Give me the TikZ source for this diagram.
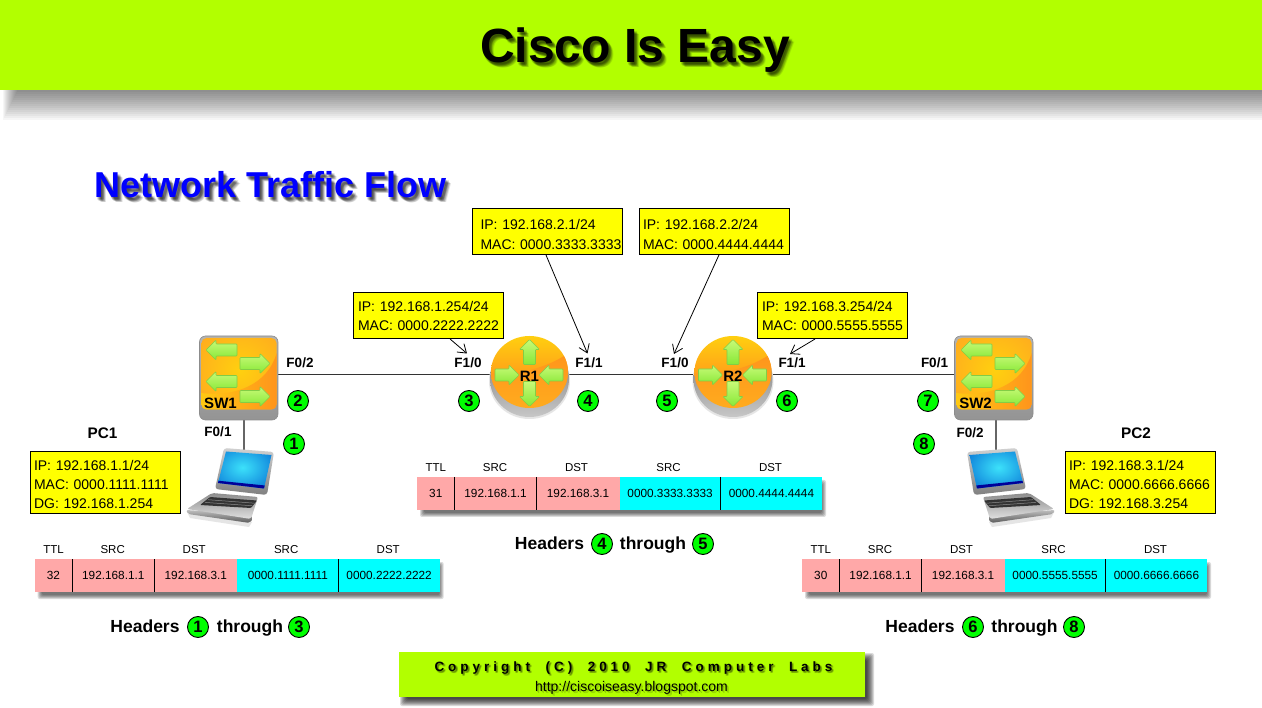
\documentclass[tikz,border=0pt]{standalone}
\usepackage{fontspec}
\setmainfont{Liberation Sans}
\newfontfamily\spacedfont[LetterSpace=29.5]{Liberation Sans}
\usetikzlibrary{arrows.meta,calc,shapes.geometric,fadings}
\definecolor{lime}{RGB}{178,255,0}
\definecolor{stepgreen}{RGB}{0,255,0}
\definecolor{boxyellow}{RGB}{255,255,0}
\definecolor{ippink}{RGB}{255,168,168}
\definecolor{maccyan}{RGB}{0,255,255}
\definecolor{screencyan}{RGB}{60,225,250}
\definecolor{screenblue}{RGB}{10,120,215}
\definecolor{arrowlight}{RGB}{200,250,120}
\definecolor{arrowdeep}{RGB}{135,232,55}
\definecolor{arrowedge}{RGB}{130,205,70}
\definecolor{faceyellow}{RGB}{255,208,15}
\definecolor{faceorange}{RGB}{255,172,30}
\definecolor{deeporange}{RGB}{255,148,28}
\newcommand{\fsz}[2]{\fontsize{#1}{#2}\selectfont}
\newcommand{\titlefont}{\bfseries\fsz{48}{50}}
\newcommand{\subtitlefont}{\bfseries\fsz{36}{38}}
\newcommand{\copyfont}{\spacedfont\bfseries\fsz{13.5}{15}}
\newcommand{\urlfont}{\fsz{14}{16}}
\newcommand{\copytext}{Copyright\ \ (C)\ \ 2010\ \ JR\ \ Computer\ \ Labs}
\newcommand{\ind}[1]{\hspace*{#1pt}}
\begin{tikzfadingfrompicture}[name=titlefade]
  \node[inner sep=0pt,text=transparent!0,font=\titlefont] {Cisco Is Easy};
\end{tikzfadingfrompicture}
\begin{tikzfadingfrompicture}[name=subtitlefade]
  \node[inner sep=0pt,text=transparent!0,font=\subtitlefont] {Network Traffic Flow};
\end{tikzfadingfrompicture}
\begin{tikzfadingfrompicture}[name=copyfade]
  \node[inner sep=0pt,text=transparent!0,font=\copyfont] {\copytext};
\end{tikzfadingfrompicture}
\begin{tikzfadingfrompicture}[name=urlfade]
  \node[inner sep=0pt,text=transparent!0,font=\urlfont] {http://ciscoiseasy.blogspot.com};
\end{tikzfadingfrompicture}
\tikzset{
  x=1pt,y=-1pt,
  addrbox/.style={draw=black,line width=1pt,fill=boxyellow,align=left,text width=148pt,inner xsep=1pt,inner ysep=0pt,outer sep=0pt,font=\fsz{14}{19.4}},
  iflabel/.style={font=\bfseries\fsz{13.5}{15},inner sep=0pt,text=black},
  devlabel/.style={font=\bfseries\fsz{15.3}{17},inner sep=0pt,text=black},
  stepdot/.style={circle,draw=black,line width=.9pt,fill=stepgreen,minimum size=21pt,inner sep=0pt,font=\bfseries\fsz{16.5}{16}},
  headtext/.style={font=\bfseries\fsz{17.5}{19},inner sep=0pt,anchor=base},
  cell/.style={minimum height=33pt,inner sep=0pt,outer sep=0pt,font=\fsz{11.8}{13}},
  ipcell/.style={cell,fill=ippink},
  maccell/.style={cell,fill=maccyan},
  coltext/.style={font=\fsz{11.5}{13},inner sep=0pt},
  link/.style={draw=black!80,line width=1pt},
  droplink/.style={draw=black!60,line width=1.4pt},
  pointer/.style={draw=black,line width=.8pt,-{Straight Barb[length=8pt,width=11pt]}},
  anchorbox/.style={inner sep=0pt,outer sep=0pt},
  softlayer/.style={fill=black,opacity=.14}
}
\newcommand{\softshadow}[5]{% x1 y1 x2 y2 steps
  \foreach \s in {0,...,#5}{
    \fill[softlayer,rounded corners=2pt] ({#1+\s},{#2+\s}) rectangle ({#3-\s+1},{#4-\s+1});
  }}
\newcommand{\textshadow}[7]{% fading cx cy halfw halfh offsets opacity
  \foreach \dx/\dy in #6{
    \fill[black,opacity=#7,path fading=#1,fit fading=false,fading transform={shift={({#2+\dx},{#3+\dy})}}]
      ({#2+\dx-#4},{#3+\dy-#5}) rectangle ({#2+\dx+#4},{#3+\dy+#5});
  }}
\newcommand{\garrow}[4]{% x y angle halflength
  \begin{scope}[shift={(#1,#2)},rotate=#3]
    \shade[top color=arrowlight,bottom color=arrowdeep,draw=arrowedge,line width=.6pt,rounded corners=.8pt]
      (-#4,-6) -- ({#4-10},-6) -- ({#4-10},-10) -- (#4,0) -- ({#4-10},10) -- ({#4-10},6) -- (-#4,6) -- cycle;
  \end{scope}}
\newcommand{\switchicon}[1]{% x offset
  \begin{scope}[xshift=#1pt]
    \shade[top color=black!30,bottom color=black!42,draw=black!45,line width=.6pt,rounded corners=6pt] (199.5,336) rectangle (278,420);
    \begin{scope}
      \path[clip,rounded corners=5pt] (201.5,338) rectangle (276.5,409.5);
      \shade[inner color=faceyellow,outer color=faceorange] (190,320) rectangle (290,420);
      \shade[left color=faceyellow!80!faceorange,right color=deeporange] (277,352) .. controls (268,385) and (235,397) .. (201,393) -- (201,410) -- (277,410) -- cycle;
    \end{scope}
    \garrow{221.5}{350}{180}{15.5}
    \garrow{255}{363.5}{0}{15}
    \garrow{221.5}{381.5}{180}{15.5}
    \garrow{255}{396.5}{0}{15}
  \end{scope}}
\newcommand{\routericon}[1]{% x centre
  \begin{scope}[xshift=#1pt]
    \fill[black!10] (0,381) ellipse [x radius=40.5,y radius=38];
    \shade[top color=black!55,bottom color=black!22] (0,379) ellipse [x radius=39.5,y radius=38];
    \begin{scope}
      \path[clip] (0,372) ellipse [x radius=38.5,y radius=36];
      \shade[top color=faceyellow,bottom color=deeporange] (-40,335) rectangle (40,385);
      \shade[top color=deeporange,bottom color=faceorange] (40,352) .. controls (20,368) and (-20,378) .. (-40,372) -- (-40,410) -- (40,410) -- cycle;
    \end{scope}
    \garrow{0}{352}{90}{12.5}
    \garrow{0}{394}{-90}{12.5}
    \garrow{-22.5}{375}{0}{12}
    \garrow{21.5}{375}{180}{12}
  \end{scope}}
\newcommand{\laptopicon}{%
  \fill[black!10] (187,512) -- (252,522) -- (249,527) -- (190,518) -- cycle;
  \shade[top color=black!25,bottom color=black!65,rounded corners=2pt] (186,510) -- (188,514) -- (250,523) -- (253,518) -- (250,514) -- cycle;
  \shade[top color=black!45,bottom color=black!12,rounded corners=2pt] (212,493) -- (258,497) -- (251,519) -- (187,509) -- cycle;
  \fill[black!80,rounded corners=1pt] (210,497) -- (257,500.5) -- (251,508) -- (200,505) -- cycle;
  \draw[black!45,line width=.5pt] (208,499.7) -- (254.5,503.2) (205,502.4) -- (252.5,505.8);
  \shade[top color=black!18,bottom color=black!50,rounded corners=3pt] (224,448) -- (274,452) -- (267,495) -- (215,489) -- cycle;
  \begin{scope}
    \path[clip] (226,451.5) -- (271.5,455) -- (264,488.5) -- (218,483) -- cycle;
    \shade[inner color=screencyan,outer color=screenblue] (205,440) rectangle (280,495);
    \fill[blue!60!black] (216,480.5) -- (270,486) -- (270,490) -- (216,485) -- cycle;
  \end{scope}}
\newcommand{\hdrtable}[6]{% prefix x y ttl mac1 mac2
  \begin{scope}[shift={(#2,#3)}]
    \softshadow{3}{3}{408}{39}{4}
    \node[ipcell,minimum width=37.8pt] (#1ttl) at (18.8,16.5) {#4};
    \node[ipcell,minimum width=82pt] (#1ipsrc) at (78.6,16.5) {192.168.1.1};
    \node[ipcell,minimum width=83.2pt] (#1ipdst) at (161.1,16.5) {192.168.3.1};
    \node[maccell,minimum width=101pt] (#1macsrc) at (253.1,16.5) {#5};
    \node[maccell,minimum width=101.8pt] (#1macdst) at (354.45,16.5) {#6};
    \draw[black,line width=.9pt] (#1ttl.north east) -- (#1ttl.south east);
    \draw[black,line width=.9pt] (#1ipsrc.north east) -- (#1ipsrc.south east);
    \draw[black,line width=.9pt] (#1macsrc.north east) -- (#1macsrc.south east);
    \node[coltext] (#1a) at (18.8,-9.5) {TTL};
    \node[coltext] (#1b) at (78,-9.5) {SRC};
    \node[coltext] (#1c) at (159.5,-9.5) {DST};
    \node[coltext] (#1d) at (251.5,-9.5) {SRC};
    \node[coltext] (#1e) at (353.5,-9.5) {DST};
  \end{scope}}
\begin{document}
\begin{tikzpicture}
\useasboundingbox (0,0) rectangle (1262,708);
\fill[white] (0,0) rectangle (1262,708);

% banner
\foreach \i in {1,...,15}{
  \fill[black,opacity=.036] ({2+\i},90) rectangle (1262,{122-2*\i});
}
\fill[lime] (0,0) rectangle (1262,90);
\textshadow{titlefade}{635}{50.5}{230}{38}{{1/2,2/3,3/4,4/4,2/4,3/3,4/5,1/3,3/2,5/5}}{.1}
\node[inner sep=0pt,text=black,font=\titlefont] (title) at (635,50.5) {Cisco Is Easy};
\textshadow{subtitlefade}{270.5}{185}{230}{32}{{1/2,2/3,3/4,4/4,2/4,3/3,4/5,1/3,3/2,5/5}}{.11}
\node[inner sep=0pt,text=blue,font=\subtitlefont] (subtitle) at (270.5,185) {Network Traffic Flow};

% device anchors
\node[anchorbox,minimum width=79pt,minimum height=78pt] (sw1) at (238.5,375) {};
\node[anchorbox,minimum width=79pt,minimum height=78pt] (sw2) at (993.5,375) {};
\node[anchorbox,circle,minimum size=79pt] (r1) at (529.5,375) {};
\node[anchorbox,circle,minimum size=79pt] (r2) at (733,375) {};
\coordinate (sw1drop) at (244,418);
\coordinate (pc1top) at (244,452);
\coordinate (sw2drop) at (996,418);
\coordinate (pc2top) at (996,452);

% links
\draw[link] (sw1) -- (r1);
\draw[link] (r1) -- (r2);
\draw[link] (r2) -- (sw2);
\draw[droplink] (sw1drop) -- (pc1top);
\draw[droplink] (sw2drop) -- (pc2top);

% icons
\switchicon{0}
\switchicon{755}
\routericon{529.5}
\routericon{733}
\laptopicon
\begin{scope}[xshift=1241pt,xscale=-1]\laptopicon\end{scope}

\node[inner sep=0pt,font=\bfseries\fsz{15}{17}] (sw1name) at (220.5,403) {SW1};
\node[inner sep=0pt,font=\bfseries\fsz{15}{17}] (sw2name) at (975.5,403) {SW2};
\node[inner sep=0pt,font=\bfseries\fsz{15}{17}] (r1name) at (529.5,376) {R1};
\node[inner sep=0pt,font=\bfseries\fsz{15}{17}] (r2name) at (733,376) {R2};
\node[devlabel] (pc1name) at (102.5,433) {PC1};
\node[devlabel] (pc2name) at (1136,433) {PC2};

% interface labels
\node[iflabel] (ifa) at (300,363) {F0/2};
\node[iflabel] (ifb) at (218,432) {F0/1};
\node[iflabel] (ifc) at (468,363) {F1/0};
\node[iflabel] (ifd) at (589,363) {F1/1};
\node[iflabel] (ife) at (675,363) {F1/0};
\node[iflabel] (iff) at (792,363) {F1/1};
\node[iflabel] (ifg) at (934.5,363) {F0/1};
\node[iflabel] (ifh) at (970,433) {F0/2};

% address boxes
\node[addrbox,minimum width=150pt,minimum height=62pt] (boxpc1) at (105,483) {\rule{0pt}{13pt}\ind{3}IP: 192.168.1.1/24\\\ind{3}MAC: 0000.1111.1111\\\ind{3}DG: 192.168.1.254};
\node[addrbox,minimum width=150pt,minimum height=62pt] (boxpc2) at (1140,483) {\rule{0pt}{13pt}\ind{3}IP: 192.168.3.1/24\\\ind{3}MAC: 0000.6666.6666\\\ind{3}DG: 192.168.3.254};
\node[addrbox,minimum width=150pt,minimum height=46pt] (boxb) at (428,316) {\ind{4}IP: 192.168.1.254/24\\\ind{4}MAC: 0000.2222.2222};
\node[addrbox,minimum width=150pt,minimum height=46pt] (boxc) at (547.5,232) {\rule{0pt}{15pt}\ind{7}IP: 192.168.2.1/24\\\ind{7}MAC: 0000.3333.3333};
\node[addrbox,minimum width=150pt,minimum height=46pt] (boxd) at (714,232) {\rule{0pt}{15pt}\ind{3}IP: 192.168.2.2/24\\\ind{3}MAC: 0000.4444.4444};
\node[addrbox,minimum width=150pt,minimum height=46pt] (boxe) at (832,316) {\ind{4}IP: 192.168.3.254/24\\\ind{4}MAC: 0000.5555.5555};

% pointers
\coordinate (tipb) at (467,353.5);
\coordinate (tipc) at (587.5,353.5);
\coordinate (tipd) at (674,354);
\coordinate (tipe) at (790,354);
\draw[pointer] ($(boxb.south west)!.647!(boxb.south east)$) -- (tipb);
\draw[pointer] ($(boxc.south west)!.49!(boxc.south east)$) -- (tipc);
\draw[pointer] ($(boxd.south west)!.533!(boxd.south east)$) -- (tipd);
\draw[pointer] ($(boxe.south west)!.387!(boxe.south east)$) -- (tipe);

% step markers
\node[stepdot] (s1) at (294,444) {1};
\node[stepdot] (s2) at (298,401) {2};
\node[stepdot] (s3) at (469,401) {3};
\node[stepdot] (s4) at (588,401) {4};
\node[stepdot] (s5) at (667,401) {5};
\node[stepdot] (s6) at (787,401) {6};
\node[stepdot] (s7) at (928,401) {7};
\node[stepdot] (s8) at (924,444) {8};

% header tables
\hdrtable{ta}{34.7}{559}{32}{0000.1111.1111}{0000.2222.2222}
\hdrtable{tb}{417}{477}{31}{0000.3333.3333}{0000.4444.4444}
\hdrtable{tc}{802}{559}{30}{0000.5555.5555}{0000.6666.6666}

% captions
\node[headtext] (capa) at (145,632) {Headers};
\node[stepdot] (capa1) at (198,627) {1};
\node[headtext] (capa2) at (250,632) {through};
\node[stepdot] (capa3) at (299,627) {3};
\node[headtext] (capb) at (549.5,550) {Headers};
\node[stepdot] (capb1) at (602,544) {4};
\node[headtext] (capb2) at (653,550) {through};
\node[stepdot] (capb3) at (703,544) {5};
\node[headtext] (capc) at (920,632) {Headers};
\node[stepdot] (capc1) at (973,627) {6};
\node[headtext] (capc2) at (1024.5,632) {through};
\node[stepdot] (capc3) at (1074,627) {8};

% footer
\softshadow{400}{653}{873}{705}{7}
\node[anchorbox,fill=lime,minimum width=466pt,minimum height=45pt] (footer) at (632,674.5) {};
\textshadow{copyfade}{633.5}{668}{215}{12}{{1/1,2/2,1/2,2/1}}{.16}
\node[inner sep=0pt,font=\copyfont] (copy) at (633.5,668) {\copytext};
\textshadow{urlfade}{631.5}{688}{110}{10}{{1/1,2/2}}{.16}
\node[inner sep=0pt,font=\urlfont] (url) at (631.5,688) {http://ciscoiseasy.blogspot.com};
\end{tikzpicture}
\end{document}
